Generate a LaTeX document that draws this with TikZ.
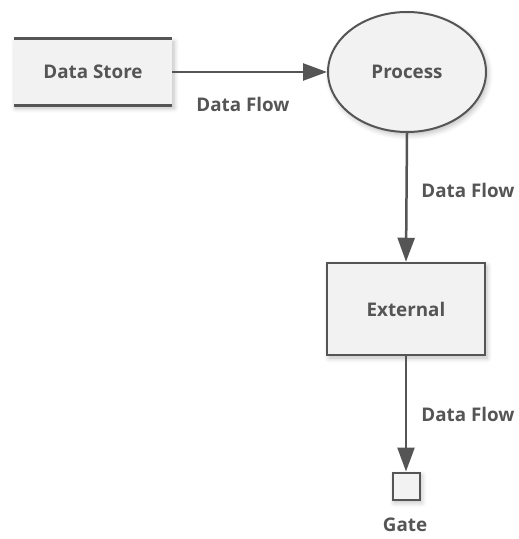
\documentclass[tikz,border=0pt]{standalone}
\usepackage{fontspec}
\setmainfont{Open Sans}
\usetikzlibrary{arrows.meta,shapes.geometric,shadows.blur}
\definecolor{ln}{HTML}{555555}
\definecolor{fl}{HTML}{F2F2F2}
\definecolor{tx}{HTML}{555555}
\begin{document}
\begin{tikzpicture}[x=1bp,y=-1bp,
  every node/.style={font=\fontsize{18.8bp}{22bp}\selectfont\bfseries, text=tx},
  shd/.style={blur shadow={shadow xshift=2bp,shadow yshift=-3bp,shadow blur steps=6,shadow blur radius=5bp,shadow opacity=25}},
  storebox/.style={fill=fl, minimum width=158bp, minimum height=66bp, inner sep=0pt, shd},
  procbox/.style={ellipse, draw=ln, line width=2bp, fill=fl, minimum width=158bp, minimum height=120bp, inner sep=0pt, shd},
  extbox/.style={rectangle, draw=ln, line width=2.5bp, fill=fl, minimum width=158bp, minimum height=92bp, inner sep=0pt, shd},
  gatebox/.style={rectangle, draw=ln, line width=2bp, fill=fl, minimum width=27bp, minimum height=27bp, inner sep=0pt, shd},
  flow/.style={draw=ln, line width=2.5bp, -{Triangle[length=24bp,width=17bp]}},
  lbl/.style={inner sep=0pt}]
\useasboundingbox (0,0) rectangle (519,539);
\node[storebox] (ds) at (93,72) {Data Store};
\draw[ln, line width=3bp] (ds.north west) -- (ds.north east);
\draw[ln, line width=3bp] (ds.south west) -- (ds.south east);
\node[procbox] (pr) at (407,72) {Process};
\node[extbox] (ex) at (406,309) {External};
\node[gatebox] (gt) at (406,486) {};
\draw[flow] (ds.east) -- (pr.west);
\draw[flow] (pr.south) -- (ex.north);
\draw[flow] (ex.south) -- (gt.north);
\node[lbl] (l1) at (243,104) {Data Flow};
\node[lbl] (l2) at (468,190) {Data Flow};
\node[lbl] (l3) at (468,414) {Data Flow};
\node[lbl] (l4) at (405,525) {Gate};
\end{tikzpicture}
\end{document}
